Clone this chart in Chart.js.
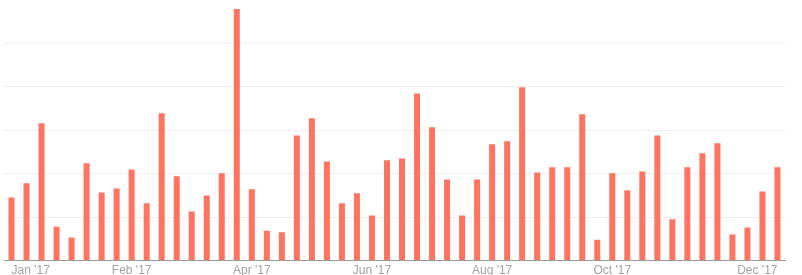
<!DOCTYPE html>
<html>
<head>
<meta charset="utf-8">
<script src="https://cdn.jsdelivr.net/npm/chart.js@4/dist/chart.umd.min.js"></script>
<style>
  body { margin: 0; background: #fff; }
  #wrap { width: 802px; height: 275px; position: relative; }
</style>
</head>
<body>
<div id="wrap"><canvas id="chart"></canvas></div>
<script>
// one label per week of 2017, only some are shown on the axis
var months = ['Jan', 'Feb', 'Mar', 'Apr', 'May', 'Jun', 'Jul', 'Aug', 'Sep', 'Oct', 'Nov', 'Dec'];
var weekMonths = [
  0, 0, 0, 0, 0, 1, 1, 1, 1, 2, 2, 2, 2, 3, 3, 3, 3, 3, 4, 4, 4, 4, 5, 5, 5, 5,
  6, 6, 6, 6, 6, 7, 7, 7, 7, 8, 8, 8, 8, 9, 9, 9, 9, 9, 10, 10, 10, 10, 11, 11, 11, 11
];
var shownTicks = [0, 8, 16, 24, 32, 40, 51];
var tickMonths = { 0: 'Jan', 8: 'Feb', 16: 'Apr', 24: 'Jun', 32: 'Aug', 40: 'Oct', 51: 'Dec' };

var values = [
  14.5, 17.8, 31.6, 7.8, 5.3, 22.4, 15.7, 16.6, 21.0, 13.2, 33.9, 19.4, 11.3,
  15.0, 20.1, 57.9, 16.4, 6.9, 6.5, 28.8, 32.8, 22.8, 13.2, 15.5, 10.4, 23.1,
  23.5, 38.5, 30.7, 18.7, 10.4, 18.7, 26.8, 27.5, 39.9, 20.3, 21.5, 21.5, 33.7,
  4.8, 20.1, 16.2, 20.5, 28.8, 9.5, 21.5, 24.7, 27.0, 6.0, 7.6, 15.9, 21.5
];

var labels = weekMonths.map(function (m) { return months[m] + " '17"; });

new Chart(document.getElementById('chart'), {
  type: 'bar',
  data: {
    labels: labels,
    datasets: [{
      label: 'Weekly',
      data: values,
      backgroundColor: '#ff7461',
      borderWidth: 0,
      barPercentage: 0.5,
      categoryPercentage: 0.8
    }]
  },
  options: {
    responsive: true,
    maintainAspectRatio: false,
    animation: false,
    layout: { padding: { left: 4, right: 17, top: 0, bottom: -6 } },
    plugins: {
      legend: { display: false },
      tooltip: { enabled: false }
    },
    scales: {
      x: {
        grid: { display: false, drawTicks: false },
        border: { display: true, color: '#9a9a9a', width: 1 },
        ticks: {
          autoSkip: false,
          maxRotation: 0,
          align: 'inner',
          padding: 3,
          color: '#a3a3a3',
          font: { family: '"Liberation Sans", Arial, sans-serif', size: 12 },
          callback: function (val, index) {
            return shownTicks.indexOf(index) >= 0 ? tickMonths[index] + " '17" : '';
          }
        }
      },
      y: {
        min: 0,
        max: 60,
        ticks: { display: false, stepSize: 10 },
        border: { display: false },
        grid: {
          drawTicks: false,
          color: function (ctx) {
            return ctx.tick && ctx.tick.value >= 60 ? 'rgba(0,0,0,0)' : '#efefef';
          }
        }
      }
    }
  }
});
</script>
</body>
</html>
